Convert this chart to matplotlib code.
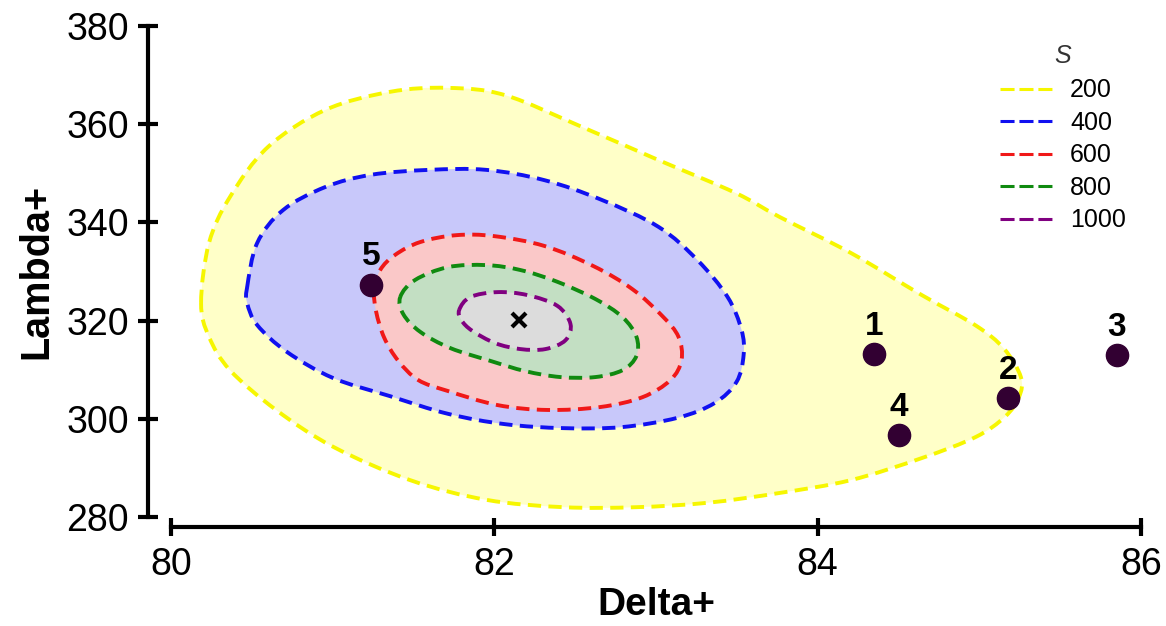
import numpy as np
import matplotlib
matplotlib.use("Agg")
import matplotlib.pyplot as plt
from matplotlib.path import Path
from matplotlib.patches import PathPatch
from matplotlib.lines import Line2D

plt.rcParams['font.family'] = ['Liberation Sans', 'DejaVu Sans']

# ---------------- data ----------------
levels = [200, 400, 600, 800, 1000]

s200_x = [80.186, 80.235, 80.365, 80.601, 80.954, 81.356, 81.715, 82.068, 82.545, 83.015,
          83.492, 83.765, 84.204, 84.644, 84.978, 85.152, 85.257, 85.245, 85.158, 84.978,
          84.644, 84.204, 83.765, 83.319, 82.879, 82.427, 81.950, 81.480, 81.003, 80.650,
          80.365, 80.235]
s200_y = [323.6, 335.8, 345.2, 355.4, 362.9, 366.6, 367.4, 365.9, 359.4, 352.7,
          346.0, 341.1, 333.8, 325.2, 319.0, 314.3, 308.5, 304.4, 300.4, 296.3,
          292.0, 287.5, 284.9, 282.9, 282.0, 282.0, 283.5, 287.5, 294.3, 301.8,
          309.9, 316.7]

s400_x = [80.471, 80.533, 80.693, 80.954, 81.238, 81.598, 81.950, 82.310, 82.663, 83.015,
          83.257, 83.443, 83.529, 83.542, 83.498, 83.362, 83.133, 82.786, 82.427, 82.068,
          81.715, 81.356, 81.003, 80.718, 80.533, 80.471]
s400_y = [326.8, 335.8, 342.5, 347.2, 349.7, 350.7, 350.7, 348.6, 344.6, 339.1,
          332.3, 324.8, 318.1, 313.0, 307.5, 303.2, 300.2, 298.3, 298.1, 298.9,
          301.0, 304.6, 308.3, 313.6, 319.1, 323.6]

s600_x = [81.257, 81.294, 81.387, 81.542, 81.765, 82.000, 82.310, 82.613, 82.854, 83.040,
          83.139, 83.158, 83.090, 82.916, 82.656, 82.328, 82.019, 81.709, 81.529, 81.406,
          81.319, 81.269]
s600_y = [326.2, 330.3, 333.4, 336.0, 337.4, 337.2, 335.2, 331.1, 326.4, 320.9,
          316.7, 312.0, 307.9, 304.4, 302.4, 301.8, 302.8, 305.7, 307.9, 311.8,
          316.5, 321.8]

s800_x = [81.418, 81.511, 81.715, 81.950, 82.161, 82.390, 82.625, 82.793, 82.879, 82.879,
          82.793, 82.625, 82.409, 82.192, 81.975, 81.728, 81.542, 81.437]
s800_y = [324.8, 328.3, 330.9, 331.3, 330.3, 327.9, 324.4, 320.7, 316.7, 312.8,
          309.9, 308.5, 308.5, 309.7, 311.8, 314.4, 317.7, 321.3]

s1000_x = [81.783, 81.851, 82.019, 82.204, 82.390, 82.471, 82.440, 82.316, 82.161, 82.006,
           81.864, 81.796]
s1000_y = [322.2, 324.8, 325.8, 325.2, 323.0, 319.3, 316.0, 314.2, 314.2, 315.4,
           317.9, 320.1]

point_labels = ['1', '2', '3', '4', '5']
point_x = [84.35, 85.18, 85.85, 84.50, 81.24]
point_y = [313.2, 304.2, 313.0, 296.7, 327.3]

optimum_x = [82.15]
optimum_y = [320.1]

x_ticks = [80, 82, 84, 86]
y_ticks = [280, 300, 320, 340, 360, 380]

# ---------------- styles ----------------
edge_colors = ['#F6F600', '#1010F0', '#F01818', '#108A10', '#800080']
fill_colors = ['#FFFFC8', '#C8C8FA', '#FAC8C8', '#C3DFC3', '#DCDCDC']
dash = (0, (3.4, 1.9))


def closed_smooth_path(xs, ys):
    P = np.column_stack([xs, ys])
    n = len(P)
    verts = [P[0]]
    codes = [Path.MOVETO]
    for i in range(n):
        p0, p1, p2, p3 = P[i - 1], P[i], P[(i + 1) % n], P[(i + 2) % n]
        verts += [p1 + (p2 - p0) / 6.0, p2 - (p3 - p1) / 6.0, p2]
        codes += [Path.CURVE4] * 3
    verts.append(P[0])
    codes.append(Path.CLOSEPOLY)
    return Path(verts, codes)


fig = plt.figure(figsize=(11.66, 6.26), dpi=100)
ax = fig.add_axes([171 / 1166, 109 / 626, 970 / 1166, 491 / 626])
ax.set_xlim(80, 86)
ax.set_ylim(280, 380)

contours = [(s200_x, s200_y), (s400_x, s400_y), (s600_x, s600_y),
            (s800_x, s800_y), (s1000_x, s1000_y)]
for k, (cx, cy) in enumerate(contours):
    path = closed_smooth_path(cx, cy)
    ax.add_patch(PathPatch(path, facecolor=fill_colors[k], edgecolor='none', zorder=1 + 2 * k))
    ax.add_patch(PathPatch(path, facecolor='none', edgecolor=edge_colors[k],
                           linewidth=2.8, linestyle=dash, zorder=2 + 2 * k))

ax.plot(point_x, point_y, 'o', color='#320032', markersize=16, zorder=20)
for lab, px, py in zip(point_labels, point_x, point_y):
    ax.annotate(lab, (px, py), xytext=(0, 14), textcoords='offset points',
                ha='center', va='baseline', fontsize=24, fontweight='bold', zorder=21)

ax.plot(optimum_x, optimum_y, 'x', color='black', markersize=10, mew=3, zorder=22)

# axes styling
for s in ['top', 'right']:
    ax.spines[s].set_visible(False)
ax.spines['left'].set_position(('outward', 16.6))
ax.spines['bottom'].set_position(('outward', 7.2))
ax.spines['left'].set_bounds(280, 380)
ax.spines['bottom'].set_bounds(80, 86)
for s in ['left', 'bottom']:
    ax.spines[s].set_linewidth(3)

ax.set_xticks(x_ticks)
ax.set_yticks(y_ticks)
ax.tick_params(axis='both', direction='inout', width=3, labelsize=27)
ax.tick_params(axis='y', length=14, pad=6.5)
ax.tick_params(axis='x', length=12.5, pad=8.5)

ax.set_xlabel('Delta+', fontsize=28, fontweight='bold')
ax.set_ylabel('Lambda+', fontsize=28.5, fontweight='bold')
ax.xaxis.set_label_coords(0.5, -0.142)
ax.yaxis.set_label_coords(-0.119, 0.5)

handles = [Line2D([], [], color=c, lw=2.2, linestyle=(0, (4.6, 1.6))) for c in edge_colors]
leg = ax.legend(handles, [str(l) for l in levels], title='S',
                loc='upper left', bbox_to_anchor=(1000 / 1166, 1 - 44 / 626),
                bbox_transform=fig.transFigure, frameon=False, fontsize=18,
                title_fontproperties={'style': 'italic', 'size': 18},
                handlelength=2.08, handletextpad=0.72, labelspacing=0.34,
                borderpad=0, borderaxespad=0)
leg.get_title().set_color('#333333')
leg._legend_box.sep = 7.5

fig.savefig('out.png', dpi=100, facecolor='white')
